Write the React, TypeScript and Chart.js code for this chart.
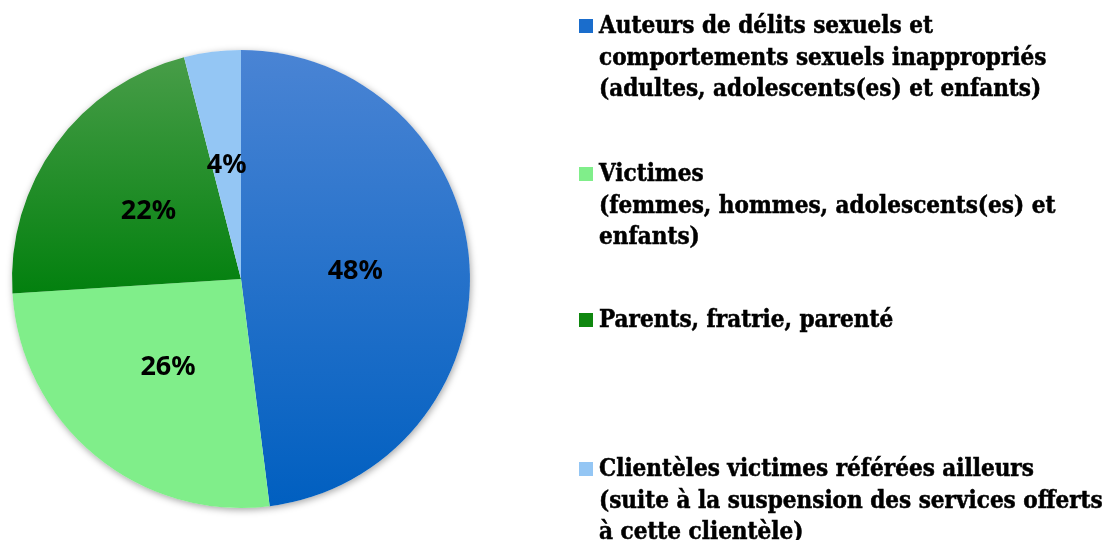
import React, { useEffect, useRef } from "react";
import { Chart, registerables } from "chart.js";

Chart.register(...registerables);

// ---- Data ----
const categories: string[][] = [
  ["Auteurs de délits sexuels et", "comportements sexuels inappropriés", "(adultes, adolescents(es) et enfants)"],
  ["Victimes", "(femmes, hommes, adolescents(es) et", "enfants)"],
  ["Parents, fratrie, parenté"],
  ["Clientèles victimes référées ailleurs", "(suite à la suspension des services offerts", "à cette clientèle)"],
];
const values: number[] = [48, 26, 22, 4];

// ---- Styles ----
const legendColors = ["#1a6dcc", "#80ee8a", "#0f870f", "#94c6f4"];
const legendBaselines = [33, 181, 327, 476];
const legendLineHeight = 31.5;
const legendFont = "bold 24px 'DejaVu Serif Condensed', 'DejaVu Serif', serif";
const pctFont = "bold 27px 'Noto Sans', 'Open Sans', sans-serif";

function sliceFill(ctx: any) {
  const chart = ctx.chart;
  const area = chart.chartArea;
  if (!area) return "#888";
  const i = ctx.dataIndex;
  const c = chart.ctx as CanvasRenderingContext2D;
  if (i === 0) {
    const g = c.createLinearGradient(0, area.top, 0, area.bottom);
    g.addColorStop(0, "#4a84d4");
    g.addColorStop(1, "#005fc0");
    return g;
  }
  if (i === 2) {
    const g = c.createLinearGradient(0, area.top, 0, area.bottom);
    g.addColorStop(0, "#4a9e4a");
    g.addColorStop(0.55, "#007f0c");
    g.addColorStop(1, "#007000");
    return g;
  }
  if (i === 1) return "#80ee8a";
  return "#94c6f4";
}

const shadowPlugin = {
  id: "pieShadow",
  beforeDatasetsDraw(chart: any) {
    const arc = chart.getDatasetMeta(0).data[0];
    if (!arc) return;
    const ctx = chart.ctx as CanvasRenderingContext2D;
    ctx.save();
    ctx.shadowColor = "rgba(0,0,0,0.35)";
    ctx.shadowBlur = 7;
    ctx.shadowOffsetX = 1;
    ctx.shadowOffsetY = 2;
    ctx.fillStyle = "#ffffff";
    ctx.beginPath();
    ctx.arc(arc.x, arc.y, arc.outerRadius, 0, Math.PI * 2);
    ctx.fill();
    ctx.restore();
  },
};

const labelsPlugin = {
  id: "pctLabels",
  afterDatasetsDraw(chart: any) {
    const ctx = chart.ctx as CanvasRenderingContext2D;
    const data = chart.data.datasets[0].data as number[];
    const total = data.reduce((a, b) => a + b, 0);
    const meta = chart.getDatasetMeta(0);
    ctx.save();
    ctx.font = pctFont;
    ctx.fillStyle = "#000";
    ctx.textAlign = "center";
    ctx.textBaseline = "middle";
    meta.data.forEach((arc: any, i: number) => {
      const mid = (arc.startAngle + arc.endAngle) / 2;
      const r = arc.outerRadius * 0.5;
      const x = arc.x + Math.cos(mid) * r;
      const y = arc.y + Math.sin(mid) * r;
      ctx.fillText(Math.round((data[i] / total) * 100) + "%", x, y);
    });
    ctx.restore();
  },
};

const legendPlugin = {
  id: "customLegend",
  afterDraw(chart: any) {
    const ctx = chart.ctx as CanvasRenderingContext2D;
    const labels = chart.data.labels as string[][];
    ctx.save();
    ctx.font = legendFont;
    ctx.textAlign = "left";
    ctx.textBaseline = "alphabetic";
    ctx.lineWidth = 0.5;
    ctx.strokeStyle = "#000";
    labels.forEach((lines, i) => {
      const base = legendBaselines[i];
      ctx.fillStyle = legendColors[i];
      ctx.fillRect(579, base - 14, 14, 14);
      ctx.fillStyle = "#000";
      lines.forEach((line, j) => {
        const y = base + j * legendLineHeight;
        ctx.fillText(line, 599, y);
        ctx.strokeText(line, 599, y);
      });
    });
    ctx.restore();
  },
};

export default function App() {
  const ref = useRef<HTMLCanvasElement | null>(null);
  useEffect(() => {
    if (!ref.current) return;
    const chart = new Chart(ref.current, {
      type: "pie",
      data: {
        labels: categories as any,
        datasets: [
          {
            data: values,
            backgroundColor: sliceFill as any,
            borderWidth: 0,
          },
        ],
      },
      options: {
        responsive: false,
        maintainAspectRatio: false,
        animation: false,
        devicePixelRatio: 1,
        layout: { padding: { left: 12, top: 50, right: 642, bottom: 32 } },
        plugins: {
          legend: { display: false },
          tooltip: { enabled: false },
        },
      },
      plugins: [shadowPlugin, labelsPlugin, legendPlugin],
    });
    return () => chart.destroy();
  }, []);
  return (
    <div style={{ position: "absolute", left: 0, top: 0, width: 1112, height: 540, background: "#fff" }}>
      <canvas ref={ref} width={1112} height={540} style={{ width: 1112, height: 540 }} />
    </div>
  );
}
